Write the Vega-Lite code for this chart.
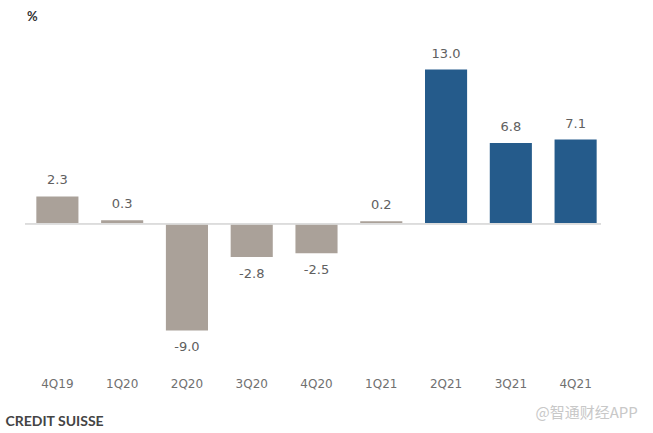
{
  "$schema": "https://vega.github.io/schema/vega-lite/v6.json",
  "autosize": "none",
  "width": 583,
  "height": 332,
  "padding": {"left": 25, "top": 34, "right": 45, "bottom": 67},
  "background": "white",
  "config": {
    "view": {"stroke": null},
    "font": "Lato",
    "locale": {"number": {"decimal": ".", "thousands": ",", "grouping": [3], "currency": ["$", ""], "minus": "-"}}
  },
  "title": {
    "text": "%",
    "anchor": "start",
    "frame": "group",
    "dx": 2,
    "offset": 10,
    "fontSize": 13,
    "fontWeight": "bold",
    "color": "#333333",
    "font": "Lato"
  },
  "data": {
    "values": [
      {"quarter": "4Q19", "value": 2.3, "type": "actual"},
      {"quarter": "1Q20", "value": 0.3, "type": "actual"},
      {"quarter": "2Q20", "value": -9.0, "type": "actual"},
      {"quarter": "3Q20", "value": -2.8, "type": "actual"},
      {"quarter": "4Q20", "value": -2.5, "type": "actual"},
      {"quarter": "1Q21", "value": 0.2, "type": "actual"},
      {"quarter": "2Q21", "value": 13.0, "type": "forecast"},
      {"quarter": "3Q21", "value": 6.8, "type": "forecast"},
      {"quarter": "4Q21", "value": 7.1, "type": "forecast"}
    ]
  },
  "encoding": {
    "x": {
      "field": "quarter",
      "type": "ordinal",
      "sort": null,
      "scale": {"paddingInner": 0.35, "paddingOuter": 0.175},
      "axis": {
        "domain": false,
        "ticks": false,
        "labelAngle": 0,
        "labelPadding": 12,
        "labelFontSize": 12,
        "labelColor": "#707070",
        "labelFont": "DejaVu Sans",
        "title": "CREDIT SUISSE",
        "titleX": -20,
        "titleY": 55,
        "titleAlign": "left",
        "titleBaseline": "middle",
        "titleFontSize": 14,
        "titleFontWeight": "bold",
        "titleColor": "#444444",
        "titleFont": "Lato"
      }
    },
    "y": {
      "field": "value",
      "type": "quantitative",
      "scale": {"domain": [-12, 16], "nice": false, "zero": false},
      "axis": {
        "domain": false,
        "ticks": false,
        "labels": false,
        "grid": false,
        "title": "@智通财经APP",
        "titleAngle": 0,
        "titleX": 510,
        "titleY": 378,
        "titleAlign": "left",
        "titleBaseline": "middle",
        "titleFontSize": 15,
        "titleFontWeight": "normal",
        "titleColor": "#c8c8c8",
        "titleFont": "Noto Sans CJK SC"
      }
    }
  },
  "layer": [
    {
      "mark": {"type": "bar"},
      "encoding": {
        "color": {
          "field": "type",
          "type": "nominal",
          "scale": {"domain": ["actual", "forecast"], "range": ["#aaa199", "#255b8b"]},
          "legend": null
        }
      }
    },
    {
      "mark": {"type": "rule", "color": "#dcdcdc", "strokeWidth": 1},
      "encoding": {"x": {"value": 0}, "x2": {"value": 576}, "y": {"datum": 0}}
    },
    {
      "transform": [{"filter": "datum.value >= 0"}],
      "mark": {"type": "text", "baseline": "bottom", "dy": -9, "fontSize": 13, "color": "#606060", "font": "DejaVu Sans"},
      "encoding": {"text": {"field": "value", "type": "quantitative", "format": ".1f"}}
    },
    {
      "transform": [{"filter": "datum.value < 0"}],
      "mark": {"type": "text", "baseline": "top", "dy": 11, "fontSize": 13, "color": "#606060", "font": "DejaVu Sans"},
      "encoding": {"text": {"field": "value", "type": "quantitative", "format": ".1f"}}
    }
  ]
}
